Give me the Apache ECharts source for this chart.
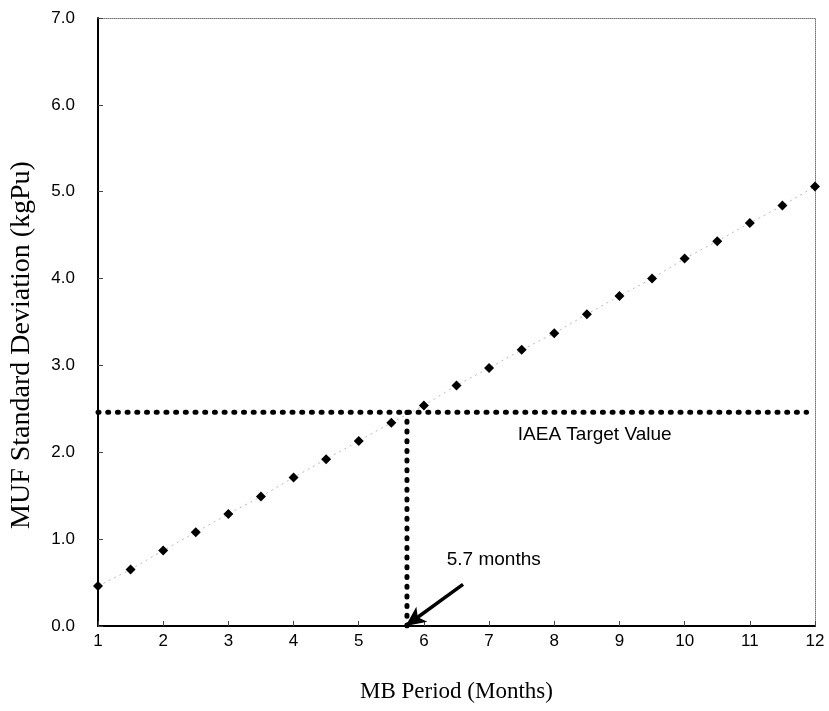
<!DOCTYPE html>
<html>
<head>
<meta charset="utf-8">
<script src="https://cdn.jsdelivr.net/npm/echarts@6/dist/echarts.min.js"></script>
<style>
  html, body { margin: 0; padding: 0; background: #fff; }
  #chart { width: 829px; height: 711px; }
</style>
</head>
<body>
<div id="chart"></div>
<script>
// MB period (months) and MUF standard deviation (kgPu)
var months = [1, 1.5, 2, 2.5, 3, 3.5, 4, 4.5, 5, 5.5, 6, 6.5, 7, 7.5, 8, 8.5, 9, 9.5, 10, 10.5, 11, 11.5, 12];
var mufSD = [0.46, 0.65, 0.87, 1.08, 1.29, 1.49, 1.71, 1.92, 2.13, 2.34, 2.54, 2.77, 2.97, 3.18, 3.37, 3.59, 3.80, 4.00, 4.23, 4.43, 4.64, 4.84, 5.06];

// IAEA target value and the crossing point
var targetX = [1, 11.87];
var targetY = [2.46, 2.46];
var crossX = [5.74, 5.74];
var crossY = [0, 2.46];

// arrow and annotation texts
var arrowFrom = [6.6, 0.48];
var arrowTo = [5.72, 0.0];
var notes = [
  { text: 'IAEA Target Value', x: 7.44, y: 2.2 },
  { text: '5.7 months', x: 6.35, y: 0.76 }
];

var yTicks = ['0.0', '1.0', '2.0', '3.0', '4.0', '5.0', '6.0', '7.0'];

var pts = [];
for (var i = 0; i < months.length; i++) {
  pts.push([months[i], mufSD[i]]);
}
var targetPts = [[targetX[0], targetY[0]], [targetX[1], targetY[1]]];
var crossPts = [[crossX[0], crossY[0]], [crossX[1], crossY[1]]];
var notePts = notes.map(function (n) { return { value: [n.x, n.y], name: n.text }; });

var sans = 'Liberation Sans';
var serif = 'Liberation Serif';

var myChart = echarts.init(document.getElementById('chart'));

var option = {
  animation: false,
  backgroundColor: '#fff',
  grid: { left: 96, right: 14, top: 18, bottom: 85 },
  xAxis: [
    {
      type: 'value',
      min: 1,
      max: 12,
      interval: 1,
      name: 'MB Period (Months)',
      nameLocation: 'middle',
      nameGap: 54,
      nameTextStyle: { fontFamily: serif, fontSize: 23, color: '#000' },
      axisLine: { show: true, lineStyle: { color: '#000', width: 2 } },
      axisTick: { inside: true, length: 5, lineStyle: { color: '#444' } },
      axisLabel: { fontFamily: sans, fontSize: 17, color: '#000', margin: 7 },
      splitLine: { show: false }
    },
    {
      // dotted frame on top
      type: 'value',
      position: 'top',
      min: 1,
      max: 12,
      axisLine: { show: true, onZero: false, lineStyle: { color: '#777', width: 1, type: 'dotted' } },
      axisTick: { show: false },
      axisLabel: { show: false },
      splitLine: { show: false }
    }
  ],
  yAxis: [
    {
      type: 'value',
      min: 0,
      max: 7,
      interval: 1,
      name: 'MUF Standard Deviation (kgPu)',
      nameLocation: 'middle',
      nameGap: 62,
      nameTextStyle: { fontFamily: serif, fontSize: 28, color: '#000', padding: [0, 46, 0, 0] },
      axisLine: { show: true, lineStyle: { color: '#000', width: 2 } },
      axisTick: { show: true, inside: true, length: 5, lineStyle: { color: '#444' } },
      axisLabel: {
        fontFamily: sans, fontSize: 17, color: '#000', margin: 23,
        formatter: function (v) { return yTicks[Math.round(v)]; }
      },
      splitLine: { show: false }
    },
    {
      // dotted frame on the right
      type: 'value',
      position: 'right',
      min: 0,
      max: 7,
      axisLine: { show: true, onZero: false, lineStyle: { color: '#777', width: 1, type: 'dotted' } },
      axisTick: { show: false },
      axisLabel: { show: false },
      splitLine: { show: false }
    }
  ],
  series: [
    {
      // faint trend line through the points
      name: 'trend',
      type: 'line',
      data: pts,
      symbol: 'none',
      lineStyle: { color: '#bbb', width: 1, type: [2, 4] },
      z: 1
    },
    {
      name: 'IAEA target',
      type: 'line',
      data: targetPts,
      symbol: 'none',
      lineStyle: { color: '#000', width: 5, type: [1, 8.7], cap: 'round' },
      z: 2
    },
    {
      name: 'crossing',
      type: 'line',
      data: crossPts,
      symbol: 'none',
      lineStyle: { color: '#000', width: 5, type: [1, 8.7], cap: 'round' },
      z: 2,
      markLine: {
        silent: true,
        symbol: ['none', 'arrow'],
        symbolSize: [14, 20],
        lineStyle: { color: '#000', width: 3.5, type: 'solid', opacity: 1 },
        label: { show: false },
        data: [[{ coord: arrowFrom }, { coord: arrowTo }]]
      }
    },
    {
      name: 'MUF SD',
      type: 'scatter',
      data: pts,
      symbol: 'diamond',
      symbolSize: 10,
      itemStyle: { color: '#000', opacity: 1 },
      z: 5
    },
    {
      name: 'notes',
      type: 'scatter',
      data: notePts,
      symbolSize: 0,
      itemStyle: { opacity: 1 },
      label: {
        show: true,
        position: 'right',
        distance: 0,
        formatter: '{b}',
        fontFamily: sans,
        fontSize: 19,
        color: '#000'
      },
      z: 6
    }
  ]
};

myChart.setOption(option);
</script>
</body>
</html>
